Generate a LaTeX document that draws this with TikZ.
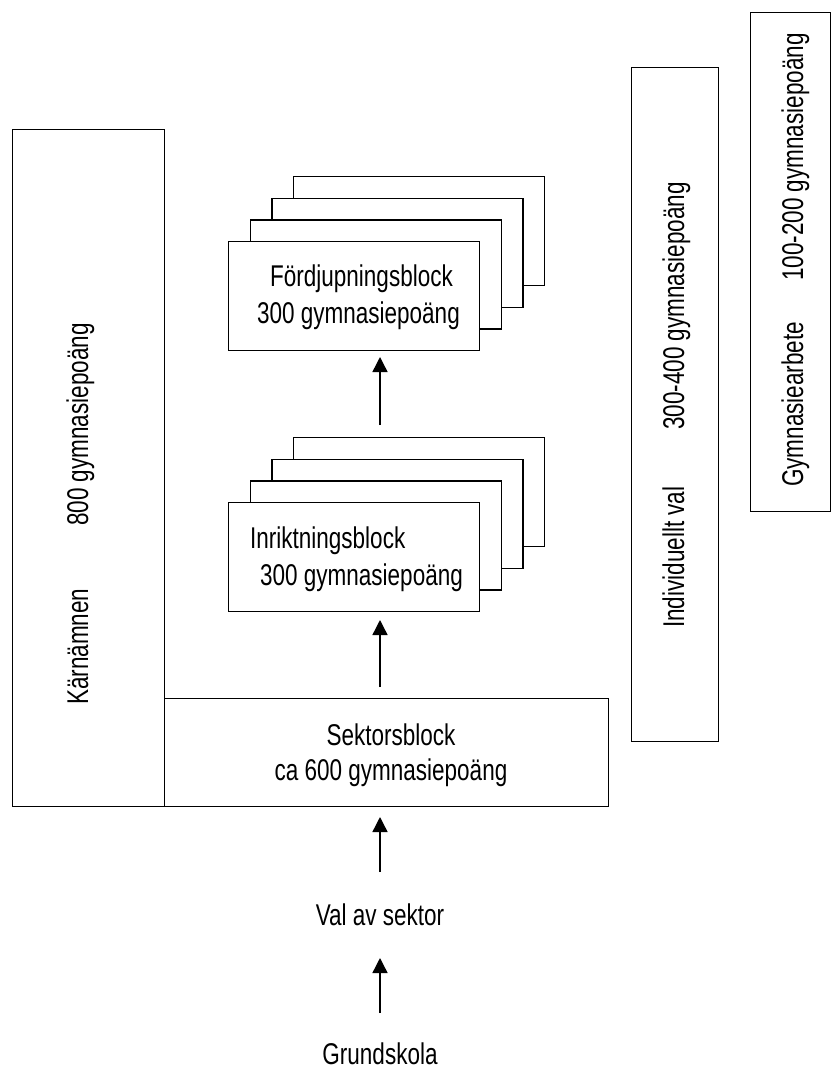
\documentclass[tikz,border=0pt]{standalone}
\usepackage{fontspec}
\setmainfont{Liberation Sans}[FakeStretch=0.75]
\usetikzlibrary{arrows.meta}
\begin{document}
\begin{tikzpicture}[x=1pt,y=-1pt,
  font=\fontsize{30}{37}\selectfont,
  box/.style={draw, line width=1.3pt, fill=white, inner sep=0, anchor=north west},
  blk/.style={box, minimum width=251pt, minimum height=109pt},
  txt/.style={inner sep=0},
  arr/.style={line width=1.4pt, -{Triangle[width=15pt,length=15pt]}}]
\useasboundingbox (0,0) rectangle (831,1070);

% side boxes
\node[box, minimum width=152pt, minimum height=677pt] (karn) at (12,129) {};
\node[box, minimum width=87pt, minimum height=674pt] (indiv) at (631,67) {};
\node[box, minimum width=80pt, minimum height=499pt] (gyarb) at (750,12) {};
\node[box, minimum width=444pt, minimum height=108pt] (sektor) at (164,698) {};

% Fördjupningsblock stack
\node[blk] (f3) at (293,176) {};
\node[blk] (f2) at (271.3,197.7) {};
\node[blk] (f1) at (249.7,219.3) {};
\node[blk] (f0) at (228,241) {};

% Inriktningsblock stack
\node[blk] (i3) at (293,437) {};
\node[blk] (i2) at (271.3,458.7) {};
\node[blk] (i1) at (249.7,480.3) {};
\node[blk] (i0) at (228,502) {};

% texts in boxes
\node[txt, anchor=base] (ft1) at (361.5,286) {Fördjupningsblock};
\node[txt, anchor=base] (ft2) at (358.5,323) {300 gymnasiepoäng};
\node[txt, anchor=base west] (it1) at (250,548) {Inriktningsblock};
\node[txt, anchor=base west] (it2) at (260,585) {300 gymnasiepoäng};
\node[txt, anchor=base] (st1) at (391,745) {Sektorsblock};
\node[txt, anchor=base] (st2) at (391,780) {ca 600 gymnasiepoäng};

% rotated texts
\node[txt, rotate=90, anchor=base west] (kt1) at (88,705) {Kärnämnen};
\node[txt, rotate=90, anchor=base east] (kt2) at (88,323) {800 gymnasiepoäng};
\node[txt, rotate=90, anchor=base west] (vt1) at (684,628) {Individuellt val};
\node[txt, rotate=90, anchor=base east] (vt2) at (684,182) {300-400 gymnasiepoäng};
\node[txt, rotate=90, anchor=base west] (gt1) at (803,487) {Gymnasiearbete};
\node[txt, rotate=90, anchor=base east] (gt2) at (803,33) {100-200 gymnasiepoäng};

% bottom texts
\node[txt, anchor=base] (val) at (380,925) {Val av sektor};
\node[txt, anchor=base] (grund) at (380,1064) {Grundskola};

% arrows
\coordinate (a1s) at (380,425);
\coordinate (a1e) at (380,357);
\coordinate (a2s) at (380,687);
\coordinate (a2e) at (380,620);
\coordinate (a3s) at (380,872);
\coordinate (a3e) at (380,817);
\coordinate (a4s) at (380,1013);
\coordinate (a4e) at (380,958);
\draw[arr] (a1s) -- (a1e);
\draw[arr] (a2s) -- (a2e);
\draw[arr] (a3s) -- (a3e);
\draw[arr] (a4s) -- (a4e);
\end{tikzpicture}
\end{document}
